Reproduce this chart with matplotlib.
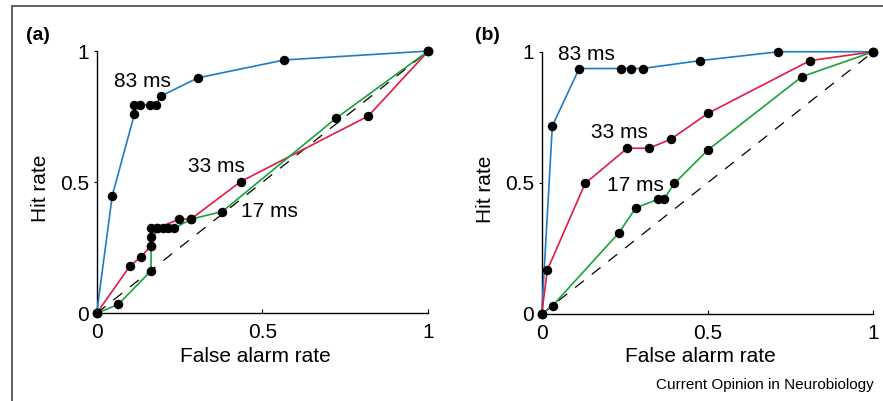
import matplotlib
matplotlib.use("Agg")
import matplotlib.pyplot as plt
from matplotlib.patches import Rectangle

plt.rcParams['font.family'] = ['Liberation Sans', 'DejaVu Sans']

# ROC data, panel (a)
a_83_x = [0, 0.047, 0.114, 0.114, 0.131, 0.161, 0.179, 0.193, 0.306, 0.566, 1]
a_83_y = [0, 0.449, 0.760, 0.794, 0.794, 0.794, 0.794, 0.828, 0.898, 0.966, 1]
a_33_x = [0, 0.100, 0.134, 0.164, 0.181, 0.249, 0.284, 0.434, 0.819, 1]
a_33_y = [0, 0.180, 0.216, 0.258, 0.324, 0.359, 0.359, 0.502, 0.752, 1]
a_17_x = [0, 0.065, 0.164, 0.164, 0.164, 0.164, 0.181, 0.201, 0.216, 0.234, 0.284, 0.379, 0.721, 1]
a_17_y = [0, 0.034, 0.162, 0.258, 0.292, 0.324, 0.324, 0.324, 0.324, 0.324, 0.359, 0.388, 0.743, 1]

# ROC data, panel (b)
b_83_x = [0, 0.032, 0.113, 0.238, 0.269, 0.304, 0.477, 0.714, 1]
b_83_y = [0, 0.717, 0.936, 0.936, 0.936, 0.936, 0.966, 1.0, 1]
b_33_x = [0, 0.017, 0.131, 0.258, 0.323, 0.389, 0.501, 0.809, 1]
b_33_y = [0, 0.168, 0.498, 0.632, 0.632, 0.666, 0.765, 0.966, 1]
b_17_x = [0, 0.033, 0.233, 0.284, 0.350, 0.368, 0.400, 0.501, 0.785, 1]
b_17_y = [0, 0.032, 0.310, 0.405, 0.437, 0.437, 0.498, 0.625, 0.905, 1]

ticks = [0, 0.5, 1]
tick_labels = ['0', '0.5', '1']

blue = '#1f7cc4'
red = '#e31a45'
green = '#18a23c'

fig = plt.figure(figsize=(8.83, 4.01), dpi=100)

# outer frame
fig.patches.append(Rectangle((12 / 883, -0.1), 1.2, 1 - 6 / 401 + 0.1,
                             transform=fig.transFigure, fill=False,
                             edgecolor='#444444', linewidth=1.2))

panels = [
    (0.1095, 0.2187, '(a)', 26,
     [(a_83_x, a_83_y, blue), (a_33_x, a_33_y, red), (a_17_x, a_17_y, green)],
     [('83 ms', 0.139, 0.883), ('33 ms', 0.36, 0.558), ('17 ms', 0.522, 0.387)]),
    (0.6135, 0.217, '(b)', 475,
     [(b_83_x, b_83_y, blue), (b_33_x, b_33_y, red), (b_17_x, b_17_y, green)],
     [('83 ms', 0.134, 0.991), ('33 ms', 0.234, 0.691), ('17 ms', 0.284, 0.49)]),
]

for left, bottom, tag, tag_x, series, labels in panels:
    ax = fig.add_axes([left, bottom, 0.3755, 0.654])
    ax.plot([0, 1], [0, 1], color='black', linestyle=(0, (9, 8)), linewidth=0.9)
    for xs, ys, c in series:
        ax.plot(xs, ys, color=c, linewidth=1.2, clip_on=False, zorder=3)
    for xs, ys, c in series:
        ax.plot(xs, ys, linestyle='none', marker='o', markersize=5.8,
                color='black', clip_on=False, zorder=4)
    for txt, x, y in labels:
        ax.text(x, y, txt, fontsize=15, ha='center', va='center')
    ax.set_xlim(0, 1)
    ax.set_ylim(0, 1)
    ax.spines['top'].set_visible(False)
    ax.spines['right'].set_visible(False)
    ax.spines['left'].set_linewidth(1.0)
    ax.spines['bottom'].set_linewidth(1.0)
    ax.set_xticks(ticks)
    ax.set_xticklabels(tick_labels)
    ax.set_yticks(ticks)
    ax.set_yticklabels(tick_labels)
    ax.tick_params(axis='x', direction='in', length=3, pad=7, labelsize=15)
    ax.tick_params(axis='y', direction='out', length=2.5, pad=3, labelsize=15)
    ax.text(0.48, -0.163, 'False alarm rate', transform=ax.transAxes,
            fontsize=15, ha='center', va='center')
    ax.text(-0.17, 0.475, 'Hit rate', transform=ax.transAxes, rotation=90,
            fontsize=15, ha='center', va='center')
    fig.text(tag_x / 883, 1 - 35 / 401, tag, fontsize=14, fontweight='bold',
             ha='left', va='center')

fig.text(874 / 883, 1 - 385 / 401, 'Current Opinion in Neurobiology',
         fontsize=11, ha='right', va='center')

fig.savefig('out.png', dpi=100)
